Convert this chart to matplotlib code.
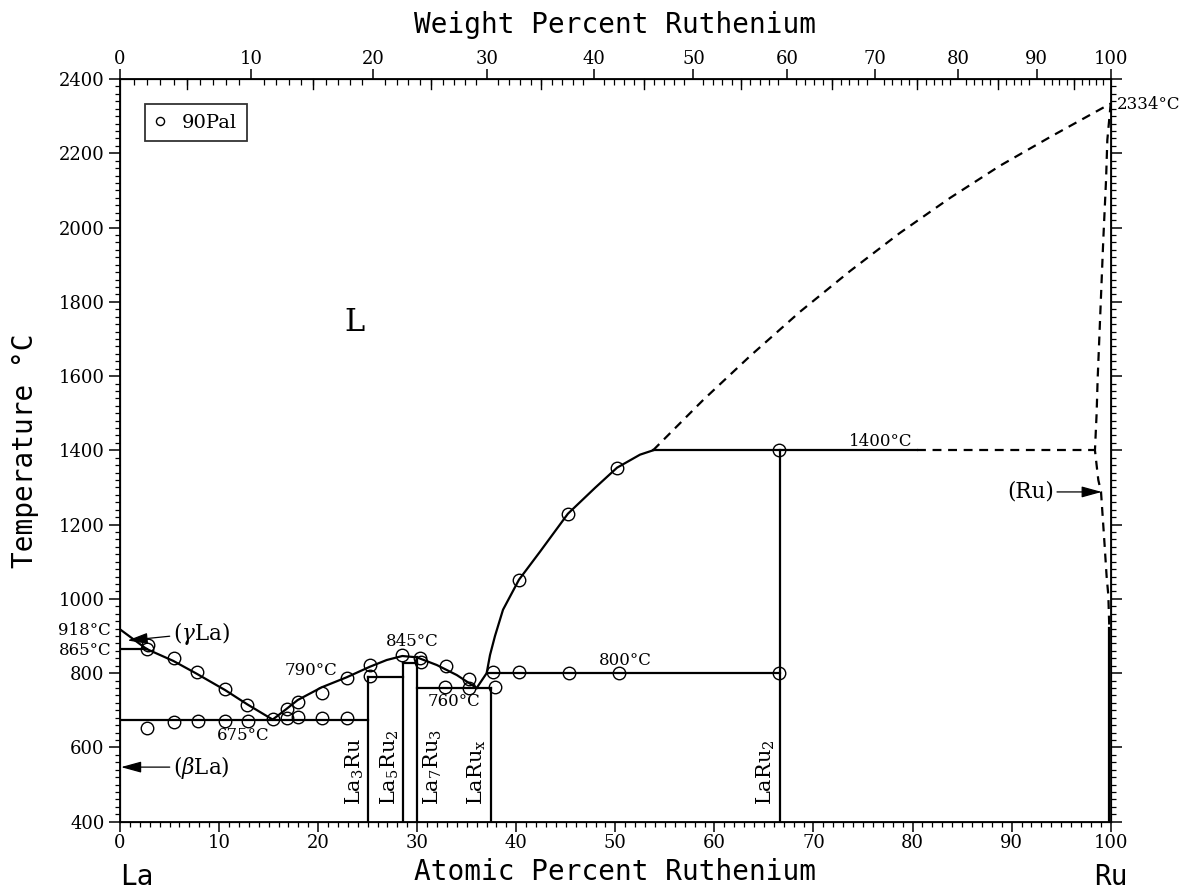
import numpy as np
import matplotlib
matplotlib.use("Agg")
import matplotlib.pyplot as plt
from matplotlib.ticker import FixedLocator, MultipleLocator

plt.rcParams['font.family'] = ['DejaVu Serif']
plt.rcParams['mathtext.fontset'] = 'dejavuserif'

# ---------------- data ----------------
# experimental points (90Pal): atomic % Ru, temperature °C
pts_x = [2.80, 2.69, 5.45, 7.74, 10.6, 12.85, 15.41, 2.69, 5.42, 7.84, 10.63, 12.92,
         16.89, 16.89, 17.94, 17.94, 20.36, 20.36, 22.88, 22.88, 25.23, 25.23,
         28.5, 30.28, 30.38, 32.9, 32.8, 35.23, 35.23, 37.62, 37.85, 40.3,
         40.27, 45.2, 50.17, 45.32, 50.37, 66.5, 66.5]
pts_t = [876, 864, 840, 804, 756, 714, 677, 651, 669, 672, 672, 672,
         703, 678, 721, 681, 747, 678, 786, 678, 822, 792,
         849, 840, 829, 820, 762, 784, 761, 804, 762, 804,
         1051, 1229, 1352, 800, 800, 1401, 800]

# liquidus segments (at% Ru, °C)
liq_la_x = [0.0, 2.69]
liq_la_t = [918, 865]
liq1_x = [2.69, 5.38, 7.74, 10.6, 12.85, 15.41]
liq1_t = [865, 833, 798.5, 754.6, 716, 675]
liq2_x = [15.41, 16.89, 17.94, 20.36, 22.88, 25.23, 26.92, 28.5, 29.95, 31.97, 33.99, 36.0]
liq2_t = [675, 705.4, 727.7, 761.9, 788.9, 817.4, 835.4, 846.2, 842.7, 822, 795, 760]
liq3_x = [36.0, 37.01, 37.35, 37.85, 38.66, 40.27, 42.39, 45.21, 47.95, 50.17, 52.49, 53.8]
liq3_t = [760, 800, 849, 900, 970.8, 1051.6, 1126.9, 1229.3, 1299, 1353.3, 1388.4, 1400]
liq_dash_x = [53.8, 58.88, 63.6, 68.63, 73.7, 78.7, 83.8, 88.8, 93.9, 100.0]
liq_dash_t = [1400, 1536, 1654, 1773, 1883, 1985, 2080, 2166, 2244, 2334]
# (Ru) solidus / solvus (dashed)
ru_dash_x = [100.0, 99.66, 99.53, 99.25, 98.68, 98.58, 98.41, 98.75, 99.02, 99.35, 99.59, 99.76, 99.86]
ru_dash_t = [2334, 2236, 2128, 1966, 1590, 1500, 1400, 1320, 1289, 1159, 1060, 1010, 921]
ru_solid_x = [99.86, 99.86]
ru_solid_t = [921, 400]

# invariant lines (x0, x1, T)
horiz_solid = [(0.0, 2.69, 865), (0.0, 25.0, 675), (25.0, 28.57, 790), (28.57, 30.0, 826.5),
               (30.0, 37.45, 760), (37.01, 66.67, 800), (53.8, 80.45, 1400)]
horiz_dash = [(80.45, 98.41, 1400)]
# compound lines (x, Ttop)
verticals = [(25.0, 790), (28.57, 826.5), (30.0, 842.7), (37.45, 760), (66.67, 1400)]

compounds = ["La$_3$Ru", "La$_5$Ru$_2$", "La$_7$Ru$_3$", "LaRu$_\\mathregular{x}$", "LaRu$_2$"]
compound_x = [23.7, 27.25, 31.6, 36.0, 65.2]

temp_labels = ["918°C", "865°C", "675°C", "790°C", "845°C", "760°C", "800°C", "1400°C", "2334°C"]
temp_label_x = [-0.9, -0.9, 12.45, 19.3, 29.45, 33.7, 51.0, 76.8, 100.6]
temp_label_t = [914, 862, 631, 808, 885, 723, 833, 1423, 2332]

# ---------------- figure ----------------
fig = plt.figure(figsize=(11.89, 8.91), dpi=100)
ax = fig.add_axes([120/1189, 1-821.7/891, (1110.7-120)/1189, (821.7-79)/891])
ax.set_xlim(0, 100)
ax.set_ylim(400, 2400)

lw = 1.6
k = 'black'
dash = (0, (4, 3))
ax.plot(liq_la_x, liq_la_t, color=k, lw=lw)
ax.plot(liq1_x, liq1_t, color=k, lw=lw)
ax.plot(liq2_x, liq2_t, color=k, lw=lw)
ax.plot(liq3_x, liq3_t, color=k, lw=lw)
ax.plot(liq_dash_x, liq_dash_t, color=k, lw=lw, ls=dash)
ax.plot(ru_dash_x, ru_dash_t, color=k, lw=lw, ls=dash)
ax.plot(ru_solid_x, ru_solid_t, color=k, lw=lw)
for x0, x1, t in horiz_solid:
    ax.plot([x0, x1], [t, t], color=k, lw=lw)
for x0, x1, t in horiz_dash:
    ax.plot([x0, x1], [t, t], color=k, lw=lw, ls=dash)
for x, t in verticals:
    ax.plot([x, x], [400, t], color=k, lw=lw)

ax.plot(pts_x, pts_t, ls='none', marker='o', ms=9, mfc='none', mec=k, mew=1.0,
        label='90Pal', clip_on=False)

leg = ax.legend(loc='upper left', bbox_to_anchor=(0.0252, 0.9663), frameon=True, fancybox=False,
                edgecolor='black', fontsize=14, handlelength=0.5, handletextpad=0.9,
                borderpad=0.5, markerscale=0.65, borderaxespad=0)
leg.get_frame().set_linewidth(1.3)

# text labels
fs = 12
for i, (lab, x, t) in enumerate(zip(temp_labels, temp_label_x, temp_label_t)):
    ha = 'right' if i < 2 else ('left' if i == 8 else 'center')
    ax.text(x, t, lab, ha=ha, va='center', fontsize=fs, clip_on=False)

ax.text(23.7, 1745, "L", ha='center', va='center', fontsize=22)

for name, x in zip(compounds, compound_x):
    ax.text(x, 445, name, rotation=90, ha='center', va='bottom', fontsize=15)

ap = dict(arrowstyle='-|>,head_length=0.8,head_width=0.22', color='black', lw=0.9,
          shrinkA=0, shrinkB=0)
ax.annotate("($\\gamma$La)", xy=(0.75, 888), xytext=(5.3, 908), fontsize=15.5,
            ha='left', va='center', arrowprops=ap)
ax.annotate("($\\beta$La)", xy=(0.1, 547), xytext=(5.3, 547), fontsize=15.5,
            ha='left', va='center', arrowprops=ap)
ax.annotate("(Ru)", xy=(99.1, 1288), xytext=(94.3, 1288), fontsize=15.5,
            ha='right', va='center', arrowprops=ap)

# ticks
for s in ax.spines.values():
    s.set_linewidth(1.3)
ax.xaxis.set_major_locator(MultipleLocator(10))
ax.xaxis.set_minor_locator(MultipleLocator(1))
ax.yaxis.set_major_locator(MultipleLocator(200))
ax.yaxis.set_minor_locator(MultipleLocator(20))
ax.tick_params(axis='both', which='major', direction='out', length=7, width=1.1, labelsize=13)
ax.tick_params(axis='both', which='minor', direction='out', length=3.5, width=0.9)
ax.tick_params(axis='y', which='major', length=8, pad=3)
ax.tick_params(axis='x', which='major', pad=2)

axr = ax.twinx()
axr.set_ylim(400, 2400)
axr.yaxis.set_major_locator(MultipleLocator(200))
axr.yaxis.set_minor_locator(MultipleLocator(20))
axr.tick_params(axis='y', which='major', direction='out', length=8, width=1.1, labelright=False)
axr.tick_params(axis='y', which='minor', direction='out', length=3.5, width=0.9)

# top axis: weight percent Ru
mLa, mRu = 138.905, 101.07
def wt2at(w):
    w = np.asarray(w, dtype=float)
    a = w / mRu
    b = (100 - w) / mLa
    return 100 * a / (a + b)

wt_major = np.arange(0, 101, 10)
wt_mid = np.arange(5, 100, 10)
wt_minor = np.arange(0, 100.01, 1.0)
axt = ax.twiny()
axt.set_xlim(0, 100)
axt.set_xticks(wt2at(wt_major))
axt.set_xticklabels([str(v) for v in wt_major])
axt.tick_params(axis='x', which='major', direction='out', length=7, width=1.1, labelsize=13, pad=1)
axt.xaxis.set_minor_locator(FixedLocator(wt2at(wt_minor)))
axt.tick_params(axis='x', which='minor', direction='in', length=4, width=0.9)
for w in wt_mid:
    axt.plot([wt2at(w)] * 2, [0.987, 1.0], transform=axt.get_xaxis_transform(),
             color='black', lw=1.0, clip_on=False)
axt.set_xlabel("Weight Percent Ruthenium", family='DejaVu Sans Mono', fontsize=20, labelpad=12)

ax.set_xlabel("Atomic Percent Ruthenium", family='DejaVu Sans Mono', fontsize=20, labelpad=4)
ax.set_ylabel("Temperature °C", family='DejaVu Sans Mono', fontsize=20, labelpad=14)
ax.text(0.0, -0.0745, "La", transform=ax.transAxes, family='DejaVu Sans Mono', fontsize=20,
        ha='left', va='center')
ax.text(1.0, -0.0745, "Ru", transform=ax.transAxes, family='DejaVu Sans Mono', fontsize=20,
        ha='center', va='center')

fig.savefig("out.png", dpi=100)
